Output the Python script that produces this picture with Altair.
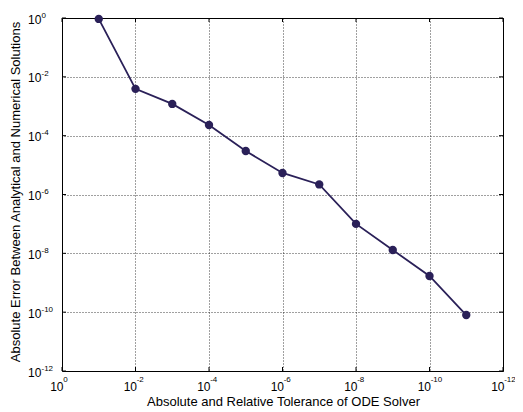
import altair as alt
import pandas as pd

# Data
tolerance = [1e-1, 1e-2, 1e-3, 1e-4, 1e-5, 1e-6, 1e-7, 1e-8, 1e-9, 1e-10, 1e-11]
abs_error = [0.93, 3.9e-3, 1.2e-3, 2.3e-4, 3.0e-5, 5.4e-6, 2.2e-6, 1.0e-7, 1.3e-8, 1.7e-9, 8.0e-11]

tick_exponents = [0, -2, -4, -6, -8, -10, -12]
tick_values = [10.0 ** e for e in tick_exponents]
tick_exp_labels = [str(e) for e in tick_exponents]

x_title = "Absolute and Relative Tolerance of ODE Solver"
y_title = "Absolute Error Between Analytical and Numerical Solutions"

W, H = 441, 353
FONT = "Liberation Sans"
LINE_COLOR = "#2a2058"

df = pd.DataFrame({"tol": tolerance, "err": abs_error})
ticks = pd.DataFrame({"v": tick_values, "e": tick_exp_labels, "base": ["10"] * len(tick_values)})
titles = pd.DataFrame({"xt": [x_title], "yt": [y_title]})

xscale = alt.Scale(type="log", domain=[1e-12, 1], reverse=True)
yscale = alt.Scale(type="log", domain=[1e-12, 1])

grid_kw = dict(values=tick_values, labels=False, ticks=False, domain=False,
               grid=True, gridDash=[1, 2], gridColor="#000000", gridOpacity=0.75,
               title="")

base = alt.Chart(df)

line = base.mark_line(color=LINE_COLOR, strokeWidth=1.8).encode(
    x=alt.X("tol:Q", scale=xscale, axis=alt.Axis(**grid_kw)),
    y=alt.Y("err:Q", scale=yscale, axis=alt.Axis(**grid_kw)),
)
points = base.mark_point(filled=True, color=LINE_COLOR, size=70, opacity=1).encode(
    x=alt.X("tol:Q", scale=xscale),
    y=alt.Y("err:Q", scale=yscale),
)

tk = alt.Chart(ticks)
# x tick labels: "10" plus a small exponent
xbase = tk.mark_text(font=FONT, fontSize=12, align="right", baseline="alphabetic",
                     dx=1.5, color="#000000").encode(
    x=alt.X("v:Q", scale=xscale), y=alt.value(H + 20), text="base:N")
xexp = tk.mark_text(font=FONT, fontSize=8, align="left", baseline="alphabetic",
                    dx=1.2, color="#000000").encode(
    x=alt.X("v:Q", scale=xscale), y=alt.value(H + 10.5), text="e:N")
# y tick labels
ybase = tk.mark_text(font=FONT, fontSize=12, align="left", baseline="alphabetic",
                     dy=5.5, color="#000000").encode(
    y=alt.Y("v:Q", scale=yscale), x=alt.value(-34), text="base:N")
yexp = tk.mark_text(font=FONT, fontSize=8, align="left", baseline="alphabetic",
                    dy=-0.5, color="#000000").encode(
    y=alt.Y("v:Q", scale=yscale), x=alt.value(-20.5), text="e:N")

# inward tick marks on all four sides
tcol = "#000000"
xt_bot = tk.mark_rule(color=tcol).encode(x=alt.X("v:Q", scale=xscale), y=alt.value(H), y2=alt.value(H - 4))
xt_top = tk.mark_rule(color=tcol).encode(x=alt.X("v:Q", scale=xscale), y=alt.value(0), y2=alt.value(4))
yt_left = tk.mark_rule(color=tcol).encode(y=alt.Y("v:Q", scale=yscale), x=alt.value(0), x2=alt.value(4))
yt_right = tk.mark_rule(color=tcol).encode(y=alt.Y("v:Q", scale=yscale), x=alt.value(W), x2=alt.value(W - 4))

# axis titles
tt = alt.Chart(titles)
xtitle = tt.mark_text(font=FONT, fontSize=13, align="center", baseline="alphabetic",
                      color="#000000").encode(
    x=alt.value(W / 2 + 1), y=alt.value(H + 35), text="xt:N")
ytitle = tt.mark_text(font=FONT, fontSize=13, align="center", baseline="alphabetic",
                      angle=270, color="#000000").encode(
    x=alt.value(-42), y=alt.value(174), text="yt:N")

chart = alt.layer(
    line, points, xbase, xexp, ybase, yexp, xt_bot, xt_top, yt_left, yt_right, xtitle, ytitle
).properties(
    width=W, height=H,
    autosize=alt.AutoSizeParams(type="none"),
    padding={"left": 54, "top": 10, "right": 12, "bottom": 40},
    background="white",
).configure_view(
    stroke="#000000", strokeWidth=1
)

chart.save("out.html", embed_options={"renderer": "svg", "actions": False})
